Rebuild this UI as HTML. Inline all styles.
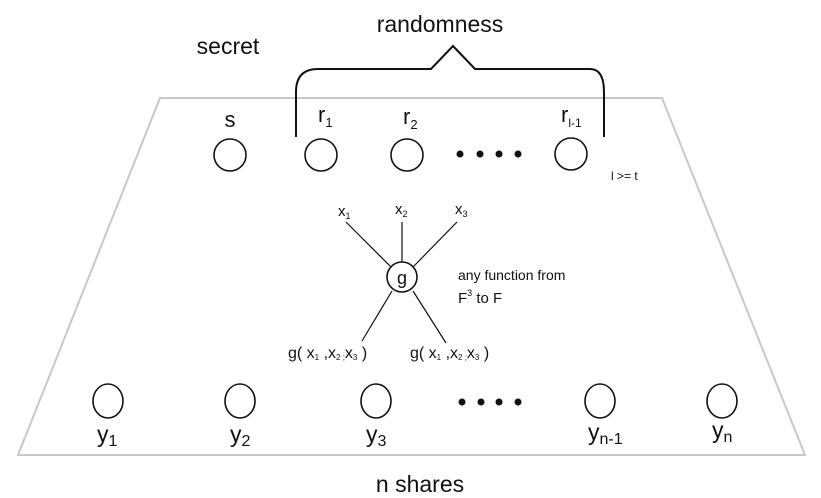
<!DOCTYPE html>
<html><head><style>body{margin:0;background:#fff}svg{display:block}text{font-family:"Liberation Sans",sans-serif;fill:#111}</style></head>
<body>
<svg width="821" height="498" viewBox="0 0 821 498">
<polygon points="160,98 662,98 805,455 18,455" fill="none" stroke="#c8c8c8" stroke-width="2"/>
<text x="440" y="32" font-size="23" text-anchor="middle">randomness</text>
<text x="228" y="54" font-size="23" text-anchor="middle">secret</text>
<path d="M296,137 V92 Q296,69 318,69 H431 L453,46 L475,69 H590 Q604,69 604,92 V137" fill="none" stroke="#111" stroke-width="2"/>
<g fill="none" stroke="#111" stroke-width="1.6">
<circle cx="230" cy="155" r="16"/><circle cx="321" cy="155" r="16"/><circle cx="407" cy="155" r="16"/><circle cx="571" cy="154" r="16"/>
<ellipse cx="108" cy="401" rx="15" ry="17"/><ellipse cx="240" cy="401" rx="15" ry="17"/><ellipse cx="376" cy="401" rx="15" ry="17"/><ellipse cx="600" cy="401" rx="15" ry="17"/><ellipse cx="722" cy="401" rx="15" ry="17"/>
<circle cx="402" cy="277" r="15"/>
</g>
<g fill="#111"><circle cx="460" cy="154" r="3.5"/><circle cx="480" cy="154" r="3.5"/><circle cx="499" cy="154" r="3.5"/><circle cx="518" cy="154" r="3.5"/>
<circle cx="462" cy="402" r="3.5"/><circle cx="481" cy="402" r="3.5"/><circle cx="499" cy="402" r="3.5"/><circle cx="518" cy="402" r="3.5"/></g>
<text x="230" y="127" font-size="22" text-anchor="middle">s</text>
<text x="318" y="122" font-size="22">r<tspan font-size="13" dy="5">1</tspan></text>
<text x="403" y="124" font-size="22">r<tspan font-size="13" dy="5">2</tspan></text>
<text x="561" y="122" font-size="22">r<tspan font-size="12" dy="5">l-1</tspan></text>
<text x="611" y="180" font-size="12">l &gt;= t</text>
<g stroke="#111" stroke-width="1.2"><line x1="346" y1="222" x2="391" y2="267"/><line x1="402" y1="222" x2="402" y2="262"/><line x1="457" y1="222" x2="413" y2="267"/><line x1="392" y1="291" x2="362" y2="341"/><line x1="413" y1="291" x2="446" y2="343"/></g>
<text x="338" y="216" font-size="15">x<tspan font-size="9" dy="3">1</tspan></text>
<text x="395" y="214" font-size="15">x<tspan font-size="9" dy="3">2</tspan></text>
<text x="455" y="214" font-size="15">x<tspan font-size="9" dy="3">3</tspan></text>
<text x="402" y="284" font-size="18" text-anchor="middle">g</text>
<text x="458" y="280" font-size="14">any function from</text>
<text x="458" y="303" font-size="15">F<tspan font-size="9" dy="-7">3</tspan><tspan dy="7"> to F</tspan></text>
<text x="288" y="358" font-size="16">g( x<tspan font-size="8" dy="2">1</tspan><tspan dy="-2"> ,x</tspan><tspan font-size="8" dy="2">2 ;</tspan><tspan dy="-2">x</tspan><tspan font-size="8" dy="2">3</tspan><tspan dy="-2"> )</tspan></text>
<text x="410" y="358" font-size="16">g( x<tspan font-size="8" dy="2">1</tspan><tspan dy="-2"> ,x</tspan><tspan font-size="8" dy="2">2 ;</tspan><tspan dy="-2">x</tspan><tspan font-size="8" dy="2">3</tspan><tspan dy="-2"> )</tspan></text>
<text x="97" y="442" font-size="23">y<tspan font-size="16" dy="4">1</tspan></text>
<text x="230" y="442" font-size="23">y<tspan font-size="16" dy="4">2</tspan></text>
<text x="366" y="442" font-size="23">y<tspan font-size="16" dy="4">3</tspan></text>
<text x="588" y="440" font-size="23">y<tspan font-size="16" dy="4">n-1</tspan></text>
<text x="712" y="438" font-size="23">y<tspan font-size="16" dy="4">n</tspan></text>
<text x="420" y="492" font-size="23" text-anchor="middle">n shares</text>
</svg>
</body></html>
